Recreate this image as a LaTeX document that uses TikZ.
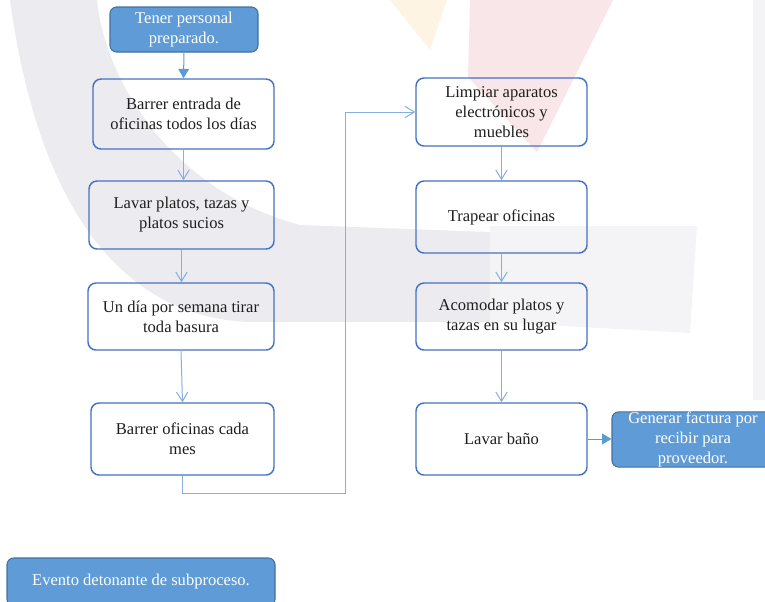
\documentclass[tikz,border=0pt]{standalone}
\usepackage{fontspec}
\setmainfont{Liberation Serif}
\usetikzlibrary{arrows.meta}

\definecolor{boxedge}{HTML}{4472C4}
\definecolor{evfill}{HTML}{5F9BD6}
\definecolor{evedge}{HTML}{41719C}
\definecolor{flowline}{HTML}{86AEE0}
\definecolor{darkflow}{HTML}{5B9BD5}
\definecolor{inkblack}{HTML}{1E1E1E}
\definecolor{wmgrey}{HTML}{ECECF0}
\definecolor{wmgreylight}{HTML}{F4F4F6}
\definecolor{wmred}{HTML}{F9E6E8}
\definecolor{wmyellow}{HTML}{FDF4E4}

\tikzset{
  txt/.style={font=\fontsize{12.4}{15}\selectfont, align=center, inner sep=0pt},
  stepbox/.style={txt, draw=boxedge, line width=1.1pt, rounded corners=6pt,
    text=inkblack, minimum width=171*0.75pt, minimum height=68*0.75pt},
  eventbox/.style={txt, draw=evedge, line width=0.8pt, fill=evfill, rounded corners=5pt,
    text=white},
  flow/.style={draw=flowline, line width=0.75pt, -{Straight Barb[length=7pt,width=8.5pt]}},
  flowsolid/.style={draw=darkflow, line width=0.75pt, -{Triangle[length=7pt,width=8pt]}},
}

\begin{document}
\begin{tikzpicture}[x=0.75pt, y=-0.75pt]
  \useasboundingbox (0,0) rectangle (765,601);

  % faint emblem in the background
  \fill[wmgrey] (10,0) -- (97,0) .. controls (105,80) and (170,190) .. (300,225)
    -- (490,232) -- (490,322) -- (250,322)
    .. controls (130,318) and (40,220) .. (10,0) -- cycle;
  \fill[wmgreylight] (490,226) -- (697,226) -- (690,333) -- (490,322) -- cycle;
  \fill[wmgreylight] (753,0) rectangle (765,400);
  \fill[wmred] (470,0) -- (613,0) -- (537,152) -- (468,77) -- cycle;
  \fill[wmyellow] (390,0) -- (447,0) -- (430,50) -- cycle;

  % left column
  \node[eventbox, minimum width=148*0.75pt, minimum height=45*0.75pt] (tener) at (184,29.5)
    {Tener personal\\preparado.};
  \node[stepbox, minimum width=181*0.75pt, minimum height=70*0.75pt] (b1) at (183.5,114)
    {Barrer entrada de\\oficinas todos los días};
  \node[stepbox, minimum width=185*0.75pt, minimum height=68*0.75pt] (b2) at (181.5,215)
    {Lavar platos, tazas y\\platos sucios};
  \node[stepbox, minimum width=186*0.75pt, minimum height=67*0.75pt] (b3) at (181,316.5)
    {Un día por semana tirar\\toda basura};
  \node[stepbox, minimum width=183*0.75pt, minimum height=72*0.75pt] (b4) at (182.5,439)
    {Barrer oficinas cada\\mes};

  % right column
  \node[stepbox, minimum height=68*0.75pt] (c1) at (501.5,112)
    {Limpiar aparatos\\electrónicos y\\muebles};
  \node[stepbox, minimum height=72*0.75pt] (c2) at (501.5,217) {Trapear oficinas};
  \node[stepbox, minimum height=67*0.75pt] (c3) at (501.5,316.5)
    {Acomodar platos y\\tazas en su lugar};
  \node[stepbox, minimum height=72*0.75pt] (c4) at (501.5,439) {Lavar baño};

  \node[eventbox, minimum width=162*0.75pt, minimum height=55*0.75pt] (gen) at (693,439.5)
    {Generar factura por\\recibir para\\proveedor.};

  \node[eventbox, minimum width=268*0.75pt, minimum height=48*0.75pt] (ev) at (141,582)
    {Evento detonante de subproceso.};

  % connectors
  \draw[flowsolid] (tener.south) -- (b1.north);
  \draw[flow] (b1.south) -- (b1.south |- b2.north);
  \draw[flow] (b2.south) -- (b2.south |- b3.north);
  \draw[flow] (b3.south) -- (b4.north);
  \coordinate (turn) at (345,493);
  \draw[flow] (b4.south) |- (turn) |- (c1.west);
  \draw[flow] (c1.south) -- (c2.north);
  \draw[flow] (c2.south) -- (c3.north);
  \draw[flow] (c3.south) -- (c4.north);
  \draw[flowsolid] (c4.east) -- (c4.east -| gen.west);
\end{tikzpicture}
\end{document}
